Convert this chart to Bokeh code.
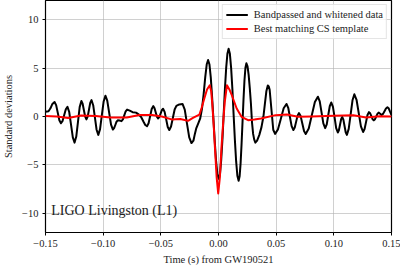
from bokeh.plotting import figure
from bokeh.models import Label, FixedTicker, Legend, LegendItem
from bokeh.embed import file_html
from bokeh.resources import INLINE

# Bandpassed and whitened data: time in ms from GW190521, value in standard deviations
data_t_ms = [-150.00, -147.39, -145.70, -144.02, -142.16,
             -140.77, -139.38, -137.99, -136.60,
             -135.16, -133.77, -132.38, -130.95,
             -129.43, -127.87, -126.31, -124.79,
             -123.32, -121.84, -120.37, -118.89,
             -117.80, -116.70, -115.60, -114.51,
             -113.41, -112.31, -111.22, -110.12,
             -108.65, -107.17, -105.70, -104.22,
             -102.70, -101.14, -99.58, -98.06,
             -96.46, -94.82, -93.17, -91.57,
             -90.52, -89.46, -88.41, -87.36,
             -85.75, -84.15,
             -82.89, -81.71, -80.48, -79.26,
             -76.98, -74.46, -71.50, -68.97, -66.87, -64.76, -63.49, -61.98,
             -60.63, -59.28, -57.93, -56.58,
             -55.52, -54.47, -53.42, -52.36,
             -51.27, -50.21, -49.16, -48.06,
             -46.71, -45.36, -44.01, -42.67,
             -41.15, -39.59, -38.03, -36.51, -33.98, -31.20,
             -29.26, -27.32, -25.38, -23.44,
             -21.75, -20.49, -19.22, -17.54, -15.85, -14.33, -12.90, -11.47, -10.20, -9.02,
             -7.84, -6.70, -5.57, -4.38, -3.20, -2.07, -0.93, 0.25,
             1.31, 2.36, 3.46, 4.51, 5.57, 6.66, 7.72, 8.77,
             9.87, 10.96, 12.06, 13.11, 14.21, 15.30, 16.36, 17.45,
             18.30, 19.14, 19.98, 20.83, 21.67, 22.51, 23.36, 24.20,
             25.17, 26.14, 27.11, 28.08, 29.05, 30.02, 30.99, 31.96,
             33.47, 35.41, 37.27, 38.96, 40.22, 41.49, 42.75,
             43.59, 44.35, 45.91, 47.47, 49.07,
             51.52, 54.01, 56.49, 58.94,
             60.46, 61.93, 63.41, 64.93,
             66.11, 67.33, 68.55, 69.73,
             71.21, 72.68, 74.16, 75.63,
             78.25, 80.90, 83.56, 86.17,
             87.78, 89.34, 90.90, 92.50,
             93.85, 95.15, 96.46, 97.81,
             99.24, 100.64, 102.03, 103.46,
             104.39, 105.36, 106.33, 107.26,
             108.27, 109.28, 110.29, 111.30,
             112.90, 114.55, 116.19, 117.79,
             119.69, 121.59, 123.49, 125.38,
             126.65, 127.91, 129.18, 130.44,
             131.50, 132.55, 133.60, 134.66,
             135.71, 136.77, 137.82, 138.87,
             140.14, 141.40,
             142.67, 143.94, 145.20, 146.46,
             147.56, 148.74, 150.00]
data_v = [0.5, 0.55, 0.85, 1.3, 1.5,
          1.18, 0.4, -0.38, -0.7,
          -0.45, 0.15, 0.75, 1.0,
          0.46, -0.85, -2.16, -2.7,
          -2.07, -0.55, 0.97, 1.6,
          1.32, 0.65, -0.02, -0.3,
          -0.01, 0.7, 1.41, 1.7,
          1.17, -0.1, -1.37, -1.9,
          -1.31, 0.13, 1.56, 2.15,
          1.64, 0.4, -0.84, -1.35,
          -1.21, -0.88, -0.54, -0.4,
          -0.42, -0.48,
          -0.3, 0.12, 0.54, 0.72,
          0.6, 0.45, 0.4, 0.2, -0.1, -0.6, -0.88, -1.0,
          -0.7, 0.03, 0.77, 1.07,
          0.88, 0.43, -0.01, -0.2,
          -0.05, 0.3, 0.65, 0.8,
          0.48, -0.3, -1.08, -1.4,
          -1.03, -0.15, 0.73, 1.1, 1.25, 1.3,
          0.71, -0.73, -2.16, -2.75,
          -2.5, -1.8, -1.2, -0.7, -0.2, 0.8, 2.3, 4.1, 5.4, 5.85,
          5.38, 4.05, 2.06, -0.3, -2.66, -4.65, -5.98, -6.45,
          -5.94, -4.48, -2.30, 0.28, 2.85, 5.03, 6.49, 7.0,
          6.48, 5.0, 2.79, 0.18, -2.44, -4.65, -6.13, -6.65,
          -6.19, -4.87, -2.9, -0.58, 1.75, 3.72, 5.04, 5.5,
          5.19, 4.3, 2.97, 1.4, -0.6, -1.8, -2.39, -2.7,
          -2.5, -1.9, -1.1, 0.0, 1.3, 2.6, 3.2,
          3.1, 2.77, 0.7, -1.37, -1.8,
          -1.35, -0.25, 0.85, 1.3,
          0.9, -0.05, -1.0, -1.4,
          -1.14, -0.53, 0.09, 0.35,
          0.04, -0.73, -1.49, -1.8,
          -1.24, 0.13, 1.49, 2.05,
          1.57, 0.43, -0.72, -1.2,
          -0.81, 0.13, 1.06, 1.45,
          1.0, -0.1, -1.2, -1.65,
          -1.42, -0.85, -0.28, -0.05,
          -0.32, -0.98, -1.63, -1.9,
          -1.28, 0.2, 1.68, 2.3,
          1.73, 0.35, -1.03, -1.6,
          -1.3, -0.58, 0.15, 0.45,
          0.33, 0.03, -0.28, -0.4,
          -0.28, 0.0, 0.28, 0.4,
          0.28, 0.15,
          0.27, 0.55, 0.83, 0.95,
          0.85, 0.5, 0.15]

# Best matching CS template: time in ms, value in standard deviations
tmpl_t_ms = [-150.00, -140.22, -130.36, -119.14, -106.50, -93.85, -79.51, -68.55, -57.59, -49.16,
             -40.73, -33.14, -26.39, -22.18, -16.53, -14.59, -12.31, -9.95, -7.59, -6.32,
             -5.31, -4.13, -3.04, -1.60, -0.25, 1.18, 2.53, 3.96, 5.40, 7.34,
             9.44, 11.55, 15.77, 19.98, 25.63, 31.20, 36.85, 49.50, 59.36, 68.89,
             80.69, 100.09, 116.95, 127.91, 139.72, 150.00]
tmpl_v = [0.05, 0.0, -0.15, 0.1, 0.05, -0.1, -0.1, 0.15, 0.15, 0.0,
          -0.3, -0.25, -0.45, -0.15, 0.2, 0.9, 1.86, 2.8, 3.24, 2.6,
          1.17, -1.0, -3.3, -6.3, -7.96, -6.3, -3.3, -0.8, 1.5, 3.24,
          2.8, 2.2, 0.83, -0.03, -0.38, -0.3, -0.2, 0.14, 0.2, -0.03,
          0.0, 0.07, 0.14, -0.1, 0.03, 0.0]

x_ticks = [-0.15, -0.10, -0.05, 0.00, 0.05, 0.10, 0.15]
x_tick_labels = ["\u22120.15", "\u22120.10", "\u22120.05", "0.00", "0.05", "0.10", "0.15"]
y_ticks = [-10, -5, 0, 5, 10]
y_tick_labels = ["\u221210", "\u22125", "0", "5", "10"]

FONT = "Liberation Serif"

data_t = [t / 1000.0 for t in data_t_ms]
tmpl_t = [t / 1000.0 for t in tmpl_t_ms]

p = figure(width=400, height=267, x_range=(-0.15, 0.15), y_range=(-12, 12),
           output_backend="svg", toolbar_location=None,
           min_border_left=0, min_border_right=9, min_border_top=0, min_border_bottom=0)

p.outline_line_color = "black"
p.outline_line_width = 1.2
p.background_fill_color = "white"
p.border_fill_color = "white"

for ax in (p.xaxis[0], p.yaxis[0]):
    ax.axis_line_color = None
    ax.major_tick_line_color = "black"
    ax.major_tick_out = 3
    ax.major_tick_in = 0
    ax.minor_tick_line_color = None
    ax.major_label_text_font = FONT
    ax.major_label_text_font_size = "10.5px"
    ax.major_label_text_color = "#222222"
    ax.axis_label_text_font = FONT
    ax.axis_label_text_font_size = "10.5px"
    ax.axis_label_text_font_style = "normal"
    ax.axis_label_text_color = "#222222"

p.xaxis.ticker = FixedTicker(ticks=x_ticks)
p.xaxis.major_label_overrides = {t: l for t, l in zip(x_ticks, x_tick_labels)}
p.yaxis.ticker = FixedTicker(ticks=y_ticks)
p.yaxis.major_label_overrides = {t: l for t, l in zip(y_ticks, y_tick_labels)}
p.xaxis.axis_label = "Time (s) from GW190521"
p.yaxis.axis_label = "Standard deviations"
p.xaxis.axis_label_standoff = 4
p.yaxis.axis_label_standoff = 5
p.xaxis.major_label_standoff = 4
p.yaxis.major_label_standoff = 4

p.xgrid.grid_line_color = "#b0b0b0"
p.ygrid.grid_line_color = "#b0b0b0"
p.xgrid.grid_line_alpha = 0.6
p.ygrid.grid_line_alpha = 0.6
p.xgrid.grid_line_width = 1
p.ygrid.grid_line_width = 1

r_data = p.line(data_t, data_v, line_color="black", line_width=2, line_join="round")
r_tmpl = p.line(tmpl_t, tmpl_v, line_color="red", line_width=2, line_join="round")

legend = Legend(items=[LegendItem(label="Bandpassed and whitened data", renderers=[r_data]),
                       LegendItem(label="Best matching CS template", renderers=[r_tmpl])],
                location="top_right")
legend.label_text_font = FONT
legend.label_text_font_size = "10.5px"
legend.label_text_color = "#222222"
legend.border_line_color = "#cccccc"
legend.border_line_width = 1
legend.background_fill_alpha = 0.8
legend.glyph_width = 22
legend.glyph_height = 13
legend.label_height = 13
legend.spacing = 1
legend.padding = 3
legend.margin = 4
legend.label_standoff = 6
p.add_layout(legend)

det_x = -0.145
det_y = -9.7
p.add_layout(Label(x=det_x, y=det_y, text="LIGO Livingston (L1)", text_font=FONT,
                   text_font_size="14px", text_color="#222222", text_baseline="alphabetic"))

open("out.html", "w").write(file_html(p, INLINE))
